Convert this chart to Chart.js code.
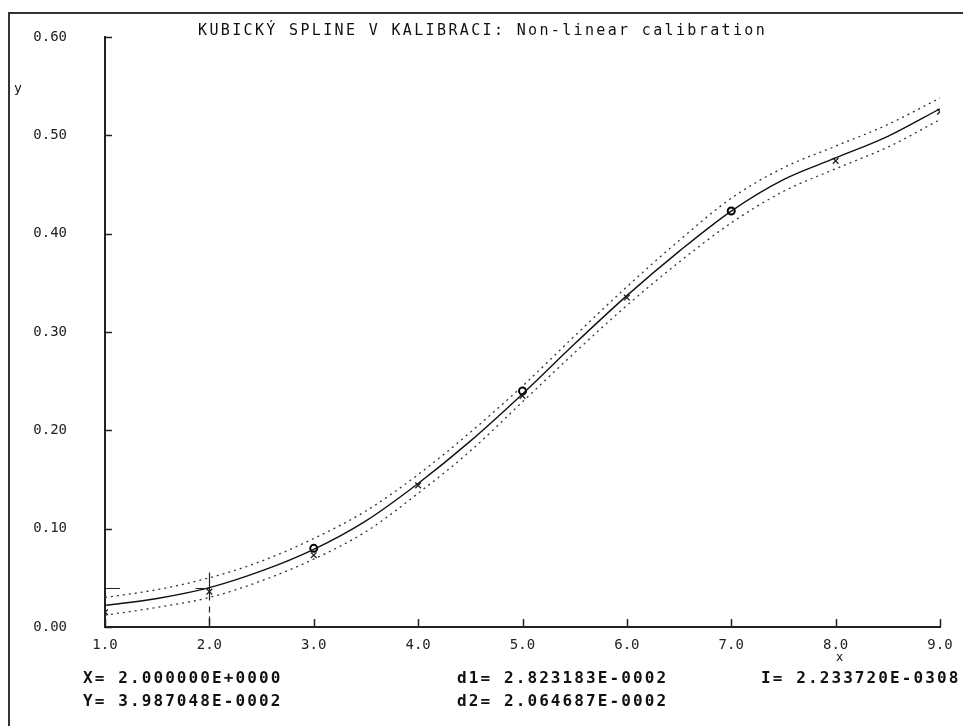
<!DOCTYPE html>
<html>
<head>
<meta charset="utf-8">
<script src="https://cdn.jsdelivr.net/npm/chart.js@4"></script>
<style>
    body { margin: 0; background: #fff; }
    #wrap { position: relative; width: 963px; height: 726px; overflow: hidden; }
    #frame { position: absolute; left: 8px; top: 12px; width: 980px; height: 760px;
             border-left: 2px solid #333; border-top: 2px solid #333; }
    canvas { position: absolute; left: 0; top: 0; }
    .txt { position: absolute; font-family: "DejaVu Sans Mono", monospace; color: #111; white-space: pre; }
    .title { font-size: 15px; letter-spacing: 2.35px; }
    .read { font-size: 16px; font-weight: bold; letter-spacing: 2.1px; }
</style>
</head>
<body>
<div id="wrap">
    <div id="frame"></div>
    <canvas id="splineChart" width="963" height="726"></canvas>
    <div class="txt title" style="left:198px; top:21px;">KUBICKÝ SPLINE V KALIBRACI: Non-linear calibration</div>
    <div class="txt" style="left:14px; top:80px; font-size:13px;">y</div>
    <div class="txt" style="left:836px; top:650px; font-size:12px;">x</div>
    <div class="txt read" style="left:83px; top:668px;">X= 2.000000E+0000</div>
    <div class="txt read" style="left:83px; top:691px;">Y= 3.987048E-0002</div>
    <div class="txt read" style="left:457px; top:668px;">d1= 2.823183E-0002</div>
    <div class="txt read" style="left:457px; top:691px;">d2= 2.064687E-0002</div>
    <div class="txt read" style="left:761px; top:668px;">I= 2.233720E-0308</div>
</div>
<script>
// spline + confidence band
const gridX = [1.0, 1.5, 2.0, 2.5, 3.0, 3.5, 4.0, 4.5, 5.0, 5.5, 6.0, 6.5, 7.0, 7.5, 8.0, 8.5, 9.0];
const splineY = [0.022, 0.029, 0.040, 0.057, 0.079, 0.108, 0.146, 0.189, 0.237, 0.288, 0.337, 0.382, 0.423, 0.455, 0.477, 0.499, 0.527];
const upperY = [0.030, 0.038, 0.050, 0.067, 0.090, 0.118, 0.155, 0.198, 0.245, 0.296, 0.346, 0.393, 0.436, 0.467, 0.489, 0.511, 0.538];
const lowerY = [0.012, 0.020, 0.030, 0.047, 0.069, 0.097, 0.136, 0.179, 0.229, 0.279, 0.327, 0.371, 0.411, 0.443, 0.466, 0.488, 0.516];

// measured points
const crossX = [1, 2, 3, 4, 5, 6, 8, 9];
const crossY = [0.015, 0.036, 0.073, 0.144, 0.235, 0.335, 0.474, 0.524];
const circleX = [3, 5, 7];
const circleY = [0.080, 0.240, 0.423];

// cursor readout
const cursorX = 2.0;
const cursorY = 0.03987048;

// axes
const xTicks = [1, 2, 3, 4, 5, 6, 7, 8, 9];
const yTicks = [0, 0.1, 0.2, 0.3, 0.4, 0.5, 0.6];

const pts = (xs, ys) => xs.map((x, i) => ({ x: x, y: ys[i] }));

// inner tick marks + cursor cross
const extras = {
    id: 'extras',
    afterDatasetsDraw(chart) {
        const c = chart.ctx;
        const sx = chart.scales.x, sy = chart.scales.y;
        const left = sx.getPixelForValue(1), bottom = sy.getPixelForValue(0);
        c.save();
        c.strokeStyle = '#222';
        c.lineWidth = 1.5;
        c.beginPath();
        yTicks.forEach(v => {
            const y = Math.round(sy.getPixelForValue(v)) + 0.5;
            c.moveTo(left, y); c.lineTo(left + 7, y);
        });
        xTicks.forEach(v => {
            const x = Math.round(sx.getPixelForValue(v)) + 0.5;
            c.moveTo(x, bottom); c.lineTo(x, bottom - 8);
        });
        c.stroke();

        const px = Math.round(sx.getPixelForValue(cursorX)) + 0.5;
        const py = Math.round(sy.getPixelForValue(cursorY)) + 0.5;
        c.lineWidth = 1.2;
        c.beginPath();
        c.moveTo(px, py - 16); c.lineTo(px, py + 12);
        c.moveTo(px - 14, py); c.lineTo(px, py);
        c.moveTo(left, py); c.lineTo(left + 15, py);
        c.stroke();
        c.setLineDash([6, 4]);
        c.beginPath();
        c.moveTo(px, py + 18); c.lineTo(px, bottom - 4);
        c.stroke();
        c.restore();
    }
};

const ctx = document.getElementById('splineChart').getContext('2d');

new Chart(ctx, {
    type: 'line',
    data: {
        datasets: [
            {
                label: 'spline',
                data: pts(gridX, splineY),
                borderColor: '#111',
                borderWidth: 1.4,
                pointRadius: 0,
                cubicInterpolationMode: 'monotone'
            },
            {
                label: 'upper',
                data: pts(gridX, upperY),
                borderColor: '#333',
                borderWidth: 1.3,
                borderDash: [2, 4],
                pointRadius: 0,
                cubicInterpolationMode: 'monotone'
            },
            {
                label: 'lower',
                data: pts(gridX, lowerY),
                borderColor: '#333',
                borderWidth: 1.3,
                borderDash: [2, 4],
                pointRadius: 0,
                cubicInterpolationMode: 'monotone'
            },
            {
                label: 'measured x',
                data: pts(crossX, crossY),
                showLine: false,
                pointStyle: 'crossRot',
                pointRadius: 4,
                borderColor: '#222',
                borderWidth: 1.3
            },
            {
                label: 'measured o',
                data: pts(circleX, circleY),
                showLine: false,
                pointStyle: 'circle',
                pointRadius: 3.5,
                backgroundColor: '#fff',
                borderColor: '#000',
                borderWidth: 2
            }
        ]
    },
    options: {
        responsive: false,
        animation: false,
        layout: { padding: { left: 0, top: 37, right: 23, bottom: 0 } },
        plugins: {
            legend: { display: false },
            tooltip: { enabled: false }
        },
        scales: {
            x: {
                type: 'linear',
                min: 1,
                max: 9,
                afterFit: s => { s.height = 99; s.paddingLeft = 0; s.paddingRight = 0; },
                afterBuildTicks: s => { s.ticks = xTicks.map(v => ({ value: v })); },
                grid: { display: false, drawTicks: false },
                border: { display: true, color: '#222', width: 2 },
                ticks: {
                    padding: 10,
                    color: '#222',
                    font: { family: 'DejaVu Sans Mono', size: 14 },
                    callback: v => Number(v).toFixed(1)
                }
            },
            y: {
                type: 'linear',
                min: 0,
                max: 0.6,
                afterFit: s => { s.width = 105; s.paddingTop = 0; s.paddingBottom = 0; },
                afterBuildTicks: s => { s.ticks = yTicks.map(v => ({ value: v })); },
                grid: { display: false, drawTicks: false },
                border: { display: true, color: '#222', width: 2 },
                ticks: {
                    padding: 38,
                    color: '#222',
                    font: { family: 'DejaVu Sans Mono', size: 14 },
                    callback: v => Number(v).toFixed(2)
                }
            }
        }
    },
    plugins: [extras]
});
</script>
</body>
</html>
